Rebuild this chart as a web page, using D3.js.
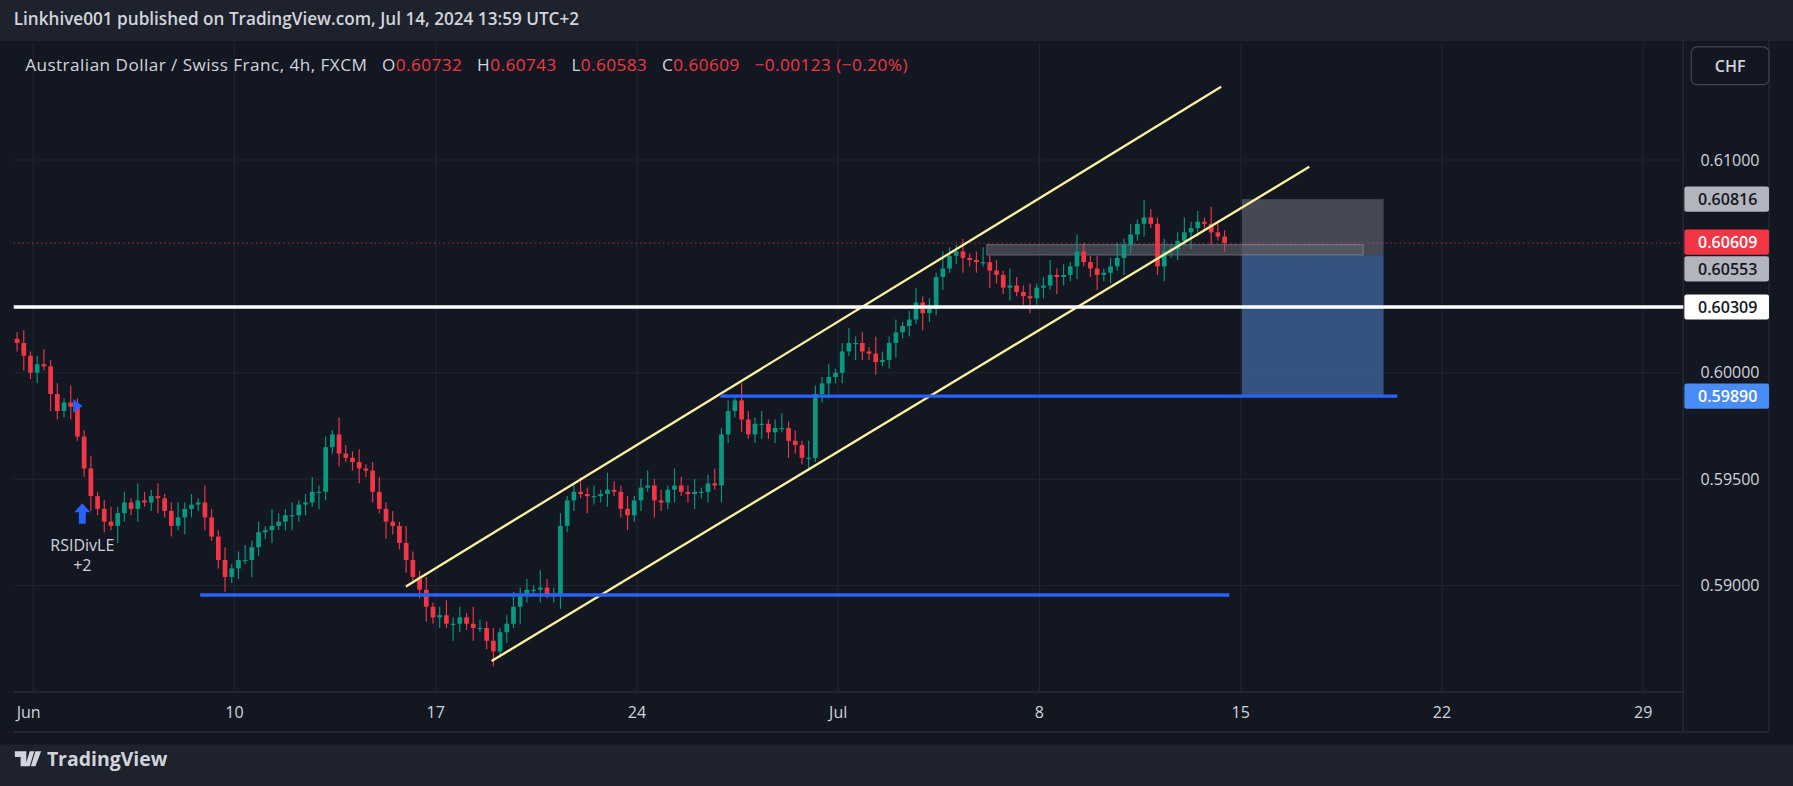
<!DOCTYPE html>
<html><head><meta charset="utf-8">
<script src="https://cdn.jsdelivr.net/npm/d3@7"></script>
<style>
body{margin:0;background:#1e222d;font-family:"Open Sans",Roboto,sans-serif;overflow:hidden;}
</style></head><body><div id="chart"></div>
<script>
// closes in pips above 0.59000, one per 4h bar
var closes = [114,108,100,104,103,90,82,86,84,70,55,42,36,30,28,34,39,36,40,39,42,41,35,28,32,36,38,39,32,23,12,4,8,12,12,18,25,26,28,30,33,33,38,39,44,44,65,71,62,60,58,55,54,44,36,30,28,20,12,4,-2,-10,-15,-14,-18,-18,-15,-18,-20,-20,-26,-31,-22,-18,-10,-4,-2,-2,-1,-4,-4,28,40,44,43,42,42,43,45,44,36,33,40,46,47,40,39,45,47,44,43,44,44,48,47,71,82,87,78,71,76,76,72,74,74,68,66,60,60,90,95,98,100,110,114,114,110,109,105,106,114,119,122,125,133,128,130,145,149,155,157,154,153,152,152,148,146,140,141,138,136,135,140,141,146,145,146,150,157,152,149,146,147,150,154,160,165,170,173,170,150,157,158,162,166,168,171,170,166,164,161];
var wickPips = [3,6,2,4,7,3,5,2,8,4];
var weekLabels = ["Jun","10","17","24","Jul","8","15","22","29"];
var priceTicks = [0.590,0.595,0.600,0.610];
var firstBarWeek = -0.08, barsPerWeek = 30;
// annotations: [week, price]
var channelUpper = [[1.852,0.58995],[5.903,0.61344]];
var channelLower = [[2.278,0.58645],[6.341,0.60968]];
var supportLine = [[0.830,0.58955],[5.943,0.58955]];
var targetLine = [[3.415,0.5989],[6.778,0.5989]];
var whiteLevel = 0.60309;
var stopBox = {w0:6.006,w1:6.71,top:0.60816,entry:0.60553,target:0.5989};
var zoneBox = {w0:4.739,w1:6.608,top:0.60602,bot:0.60554};
var priceLabels = [
 {p:0.60816,t:"0.60816",bg:"#b2b5be",fg:"#131722",dy:0},
 {p:0.60609,t:"0.60609",bg:"#f23645",fg:"#ffffff",dy:-1},
 {p:0.60553,t:"0.60553",bg:"#b2b5be",fg:"#131722",dy:12},
 {p:0.60309,t:"0.60309",bg:"#ffffff",fg:"#131722",dy:0},
 {p:0.5989,t:"0.59890",bg:"#4a8cf7",fg:"#ffffff",dy:0}];

var W=1793,H=786,K=W/1568;
var root=d3.select("#chart").append("svg").attr("width",W).attr("height",H);
root.append("rect").attr("width",W).attr("height",H).attr("fill","#1e222d");
var svg=root.append("g").attr("transform","scale("+K+")");
svg.append("rect").attr("x",0).attr("y",36).attr("width",1568).attr("height",615).attr("fill","#131722");

var x=d3.scaleLinear().domain([0,8]).range([29,29+176*8]);
var y=d3.scaleLinear().domain([0.585,0.61548]).range([605,38]);

// grid
var g=svg.append("g");
g.selectAll(".vg").data(weekLabels).join("line").attr("x1",(d,i)=>x(i)).attr("x2",(d,i)=>x(i))
 .attr("y1",38).attr("y2",605).attr("stroke","#1f2431");
g.selectAll(".hg").data(priceTicks).join("line").attr("x1",12).attr("x2",1472)
 .attr("y1",d=>y(d)).attr("y2",d=>y(d)).attr("stroke","#1f2431");
svg.append("line").attr("x1",12).attr("x2",1472).attr("y1",605).attr("y2",605).attr("stroke","#2a2e39");
svg.append("line").attr("x1",1472).attr("x2",1472).attr("y1",36).attr("y2",640).attr("stroke","#2a2e39");
svg.append("line").attr("x1",1547).attr("x2",1547).attr("y1",36).attr("y2",640).attr("stroke","#2a2e39");
svg.append("line").attr("x1",12).attr("x2",1547).attr("y1",640).attr("y2",640).attr("stroke","#2a2e39");

// axis labels
svg.selectAll(".xl").data(weekLabels).join("text").attr("x",(d,i)=>x(i)+(i==0?-4:0)).attr("y",628)
 .attr("text-anchor","middle").attr("fill","#d1d4dc").attr("font-size",14).text(d=>d);
svg.selectAll(".yl").data(priceTicks).join("text").attr("x",1487).attr("y",d=>y(d)+5)
 .attr("fill","#d1d4dc").attr("font-size",14).text(d=>d.toFixed(5));

// boxes
svg.append("rect").attr("x",x(stopBox.w0)).attr("width",x(stopBox.w1)-x(stopBox.w0))
 .attr("y",y(stopBox.top)).attr("height",y(stopBox.entry)-y(stopBox.top)).attr("fill","#5d606b").attr("opacity",0.7);
svg.append("rect").attr("x",x(stopBox.w0)).attr("width",x(stopBox.w1)-x(stopBox.w0))
 .attr("y",y(stopBox.entry)).attr("height",y(stopBox.target)-y(stopBox.entry)).attr("fill","#3d6499").attr("opacity",0.8);
svg.append("rect").attr("x",x(zoneBox.w0)).attr("width",x(zoneBox.w1)-x(zoneBox.w0))
 .attr("y",y(zoneBox.top)).attr("height",y(zoneBox.bot)-y(zoneBox.top)).attr("fill","#5d606b").attr("opacity",0.6).attr("stroke","#9598a1");

// last price dotted
svg.append("line").attr("x1",12).attr("x2",1472).attr("y1",y(0.60609)).attr("y2",y(0.60609))
 .attr("stroke","#f23645").attr("stroke-dasharray","1,3").attr("opacity",0.7);

// candles
var step=1/barsPerWeek;
var bars=closes.map((c,i)=>{
 var o=i==0?closes[0]+2:closes[i-1], w=wickPips[i%wickPips.length];
 return {w:firstBarWeek+i*step,o:0.59+o/1e4,c:0.59+c/1e4,h:0.59+(Math.max(o,c)+w)/1e4,l:0.59+(Math.min(o,c)-wickPips[(i+3)%wickPips.length])/1e4};
});
var cw=x(step)-x(0);
var cg=svg.append("g");
cg.selectAll("line").data(bars).join("line").attr("x1",d=>x(d.w)).attr("x2",d=>x(d.w))
 .attr("y1",d=>y(d.h)).attr("y2",d=>y(d.l)).attr("stroke",d=>d.c>=d.o?"#089981":"#f23645");
cg.selectAll("rect").data(bars).join("rect").attr("x",d=>x(d.w)-cw*0.35).attr("width",cw*0.7)
 .attr("y",d=>y(Math.max(d.o,d.c))).attr("height",d=>Math.max(1,Math.abs(y(d.o)-y(d.c))))
 .attr("fill",d=>d.c>=d.o?"#089981":"#f23645");

// lines
var ln=d3.line().x(d=>x(d[0])).y(d=>y(d[1]));
[channelUpper,channelLower].forEach(p=>svg.append("path").attr("d",ln(p)).attr("stroke","#fff59d").attr("stroke-width",2).attr("fill","none"));
[supportLine,targetLine].forEach(p=>svg.append("path").attr("d",ln(p)).attr("stroke","#2962ff").attr("stroke-width",3).attr("fill","none"));
svg.append("line").attr("x1",12).attr("x2",1472).attr("y1",y(whiteLevel)).attr("y2",y(whiteLevel)).attr("stroke","#fff").attr("stroke-width",3);

// price labels
var pl=svg.selectAll(".pl").data(priceLabels).join("g").attr("transform",d=>"translate(1473,"+(y(d.p)+d.dy)+")");
pl.append("rect").attr("x",0).attr("y",-11).attr("width",74).attr("height",22).attr("rx",2).attr("fill",d=>d.bg);
pl.append("text").attr("x",12).attr("y",5).attr("font-size",14).attr("font-weight",600).attr("fill",d=>d.fg).text(d=>d.t);

// RSI signal
svg.append("path").attr("d","M64,349 L72,355 L64,361 Z").attr("fill","#2962ff");
svg.append("path").attr("d","M72,440 L79,448 L75,448 L75,458 L69,458 L69,448 L65,448 Z").attr("fill","#2962ff");
svg.append("text").attr("x",72).attr("y",482).attr("text-anchor","middle").attr("fill","#d1d4dc").attr("font-size",14).text("RSIDivLE");
svg.append("text").attr("x",72).attr("y",499).attr("text-anchor","middle").attr("fill","#d1d4dc").attr("font-size",14).text("+2");

// headers
svg.append("text").attr("x",12).attr("y",22).attr("fill","#d1d4dc").attr("font-size",15).attr("font-weight",600)
 .text("Linkhive001 published on TradingView.com, Jul 14, 2024 13:59 UTC+2");
var lg=svg.append("text").attr("x",22).attr("y",62).attr("font-size",15).attr("letter-spacing",0.4).attr("fill","#d1d4dc");
[["Australian Dollar / Swiss Franc, 4h, FXCM   ","#d1d4dc"],["O","#d1d4dc"],["0.60732   ","#f23645"],["H","#d1d4dc"],["0.60743   ","#f23645"],
 ["L","#d1d4dc"],["0.60583   ","#f23645"],["C","#d1d4dc"],["0.60609   −0.00123 (−0.20%)","#f23645"]]
 .forEach(s=>lg.append("tspan").attr("fill",s[1]).attr("xml:space","preserve").text(s[0]));
svg.append("rect").attr("x",1479).attr("y",41).attr("width",68).attr("height",33).attr("rx",5).attr("fill","#131722").attr("stroke","#434651");
svg.append("text").attr("x",1513).attr("y",63).attr("text-anchor","middle").attr("fill","#d1d4dc").attr("font-size",14).attr("font-weight",600).text("CHF");
// logo
svg.append("path").attr("d","M13,657 h10 v13 h-5 v-8 h-5 Z M26,657 h4 l-4,13 h-4 Z M31,657 h5 l-5,13 h-4 Z").attr("fill","#d1d4dc");
svg.append("text").attr("x",41).attr("y",670).attr("fill","#d1d4dc").attr("font-size",17).attr("font-weight",700).text("TradingView");
</script></body></html>
